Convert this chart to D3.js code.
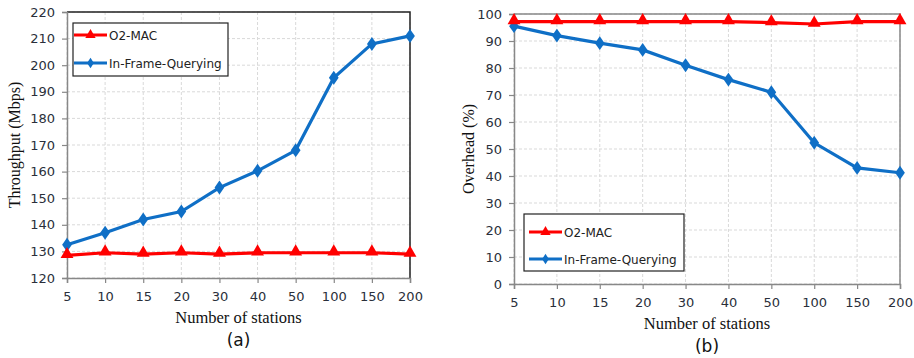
<!DOCTYPE html>
<html>
<head>
<meta charset="utf-8">
<script src="https://cdn.jsdelivr.net/npm/d3@7"></script>
<style>
  body { margin: 0; background: #fff; }
  svg { display: block; }
  .tick text { font-family: "DejaVu Sans", Verdana, sans-serif; font-size: 13px; fill: #2a2f3a; }
</style>
</head>
<body>
<svg id="chart" width="914" height="358"></svg>
<script>
// station counts (categorical x axis)
var stations = ["5", "10", "15", "20", "30", "40", "50", "100", "150", "200"];
var seriesNames = ["O2-MAC", "In-Frame-Querying"];
var colors = ["#ff0000", "#0f6fc6"];

// (a) throughput, Mbps
var thrO2 = [128.5, 129.5, 129, 129.5, 129, 129.5, 129.5, 129.5, 129.5, 129];
var thrIFQ = [132.5, 137, 142, 145, 154, 160.3, 168, 195.3, 208, 211];
var thrTicks = [120, 130, 140, 150, 160, 170, 180, 190, 200, 210, 220];

// (b) overhead, %
var ovO2 = [97.2, 97.2, 97.2, 97.2, 97.2, 97.2, 96.8, 96.3, 97.2, 97.2];
var ovIFQ = [95.5, 92, 89.2, 86.7, 81, 75.7, 71, 52.3, 43, 41.2];
var ovTicks = [0, 10, 20, 30, 40, 50, 60, 70, 80, 90, 100];

var svg = d3.select("#chart");

function drawPanel(opt) {
  var g = svg.append("g");
  var x = d3.scalePoint().domain(stations).range([opt.left, opt.right]);
  var y = d3.scaleLinear().domain(opt.domain).range([opt.bottom, opt.top]);

  // grid
  g.append("g").selectAll("line").data(opt.ticks).enter().append("line")
    .attr("x1", opt.left).attr("x2", opt.right)
    .attr("y1", function (d) { return y(d); }).attr("y2", function (d) { return y(d); })
    .attr("stroke", "#d9d9d9").attr("stroke-dasharray", "3,2").attr("stroke-width", 1);
  g.append("g").selectAll("line").data(stations).enter().append("line")
    .attr("x1", function (d) { return x(d); }).attr("x2", function (d) { return x(d); })
    .attr("y1", opt.top).attr("y2", opt.bottom)
    .attr("stroke", "#d9d9d9").attr("stroke-dasharray", "3,2").attr("stroke-width", 1);

  // frame top/right
  g.append("path")
    .attr("d", "M" + opt.left + "," + opt.top + "H" + opt.right + "V" + opt.bottom)
    .attr("fill", "none").attr("stroke", opt.frame).attr("stroke-width", 1.5);

  // axes
  var ya = g.append("g").attr("transform", "translate(" + opt.left + ",0)")
    .call(d3.axisLeft(y).tickValues(opt.ticks).tickSize(5).tickPadding(7));
  var xa = g.append("g").attr("transform", "translate(0," + opt.bottom + ")")
    .call(d3.axisBottom(x).tickSize(5).tickPadding(9));
  [ya, xa].forEach(function (a) {
    a.select(".domain").attr("stroke", "#888").attr("stroke-width", 1.5);
    a.selectAll(".tick line").attr("stroke", "#888").attr("stroke-width", 1.2);
  });

  // lines and markers
  var line = d3.line().x(function (d, i) { return x(stations[i]); }).y(function (d) { return y(d); });
  [opt.o2, opt.ifq].forEach(function (vals, s) {
    g.append("path").datum(vals).attr("d", line)
      .attr("fill", "none").attr("stroke", colors[s]).attr("stroke-width", 3.2);
  });
  var tri = d3.symbol().type(d3.symbolTriangle).size(72);
  var dia = d3.symbol().type(d3.symbolDiamond).size(62);
  g.append("g").selectAll("path").data(opt.ifq).enter().append("path")
    .attr("d", dia)
    .attr("transform", function (d, i) { return "translate(" + x(stations[i]) + "," + y(d) + ") scale(1.15,0.95)"; })
    .attr("fill", colors[1]);
  g.append("g").selectAll("path").data(opt.o2).enter().append("path")
    .attr("d", tri)
    .attr("transform", function (d, i) { return "translate(" + x(stations[i]) + "," + (y(d) - 1) + ")"; })
    .attr("fill", colors[0]);

  // legend
  var L = opt.legend;
  var lg = g.append("g").attr("transform", "translate(" + L.x + "," + L.y + ")");
  lg.append("rect").attr("width", L.w).attr("height", L.h)
    .attr("fill", "#fff").attr("stroke", "#222").attr("stroke-width", 1.2);
  seriesNames.forEach(function (name, s) {
    var cy = L.first + s * L.gap;
    lg.append("line").attr("x1", L.pad).attr("x2", L.pad + 33).attr("y1", cy).attr("y2", cy)
      .attr("stroke", colors[s]).attr("stroke-width", 3);
    lg.append("path").attr("d", s === 0 ? tri : dia)
      .attr("transform", "translate(" + (L.pad + 16.5) + "," + cy + ")" + (s === 0 ? " scale(0.8)" : " scale(0.8,0.7)"))
      .attr("fill", colors[s]);
    lg.append("text").attr("x", L.pad + 35).attr("y", cy + 4.5)
      .attr("font-family", "DejaVu Sans, Verdana, sans-serif").attr("font-size", 12)
      .attr("fill", "#222").text(name);
  });

  // titles
  g.append("text").attr("x", (opt.left + opt.right) / 2).attr("y", opt.bottom + 45)
    .attr("text-anchor", "middle").attr("font-family", "Liberation Serif, Times New Roman, serif")
    .attr("font-size", 16.5).attr("fill", "#111").text("Number of stations");
  g.append("text").attr("x", (opt.left + opt.right) / 2).attr("y", opt.bottom + 68)
    .attr("text-anchor", "middle").attr("font-family", "DejaVu Sans, Verdana, sans-serif")
    .attr("font-size", 17).attr("fill", "#111").text(opt.tag);
  g.append("text")
    .attr("transform", "translate(" + opt.ylabX + "," + (opt.top + opt.bottom) / 2 + ") rotate(-90)")
    .attr("text-anchor", "middle").attr("font-family", "Liberation Serif, Times New Roman, serif")
    .attr("font-size", 16).attr("fill", "#111").text(opt.ylab);
}

drawPanel({
  left: 67, right: 410, top: 12, bottom: 278,
  domain: [120, 220], ticks: thrTicks, o2: thrO2, ifq: thrIFQ,
  frame: "#222", legend: { x: 73, y: 23, w: 155, h: 53, first: 12, gap: 28, pad: 1 },
  tag: "(a)", ylab: "Throughput  (Mbps)", ylabX: 20
});
drawPanel({
  left: 514, right: 900, top: 14, bottom: 284,
  domain: [0, 100], ticks: ovTicks, o2: ovO2, ifq: ovIFQ,
  frame: "#888", legend: { x: 524, y: 214, w: 160, h: 57, first: 18, gap: 27, pad: 5 },
  tag: "(b)", ylab: "Overhead (%)", ylabX: 474
});
</script>
</body>
</html>
